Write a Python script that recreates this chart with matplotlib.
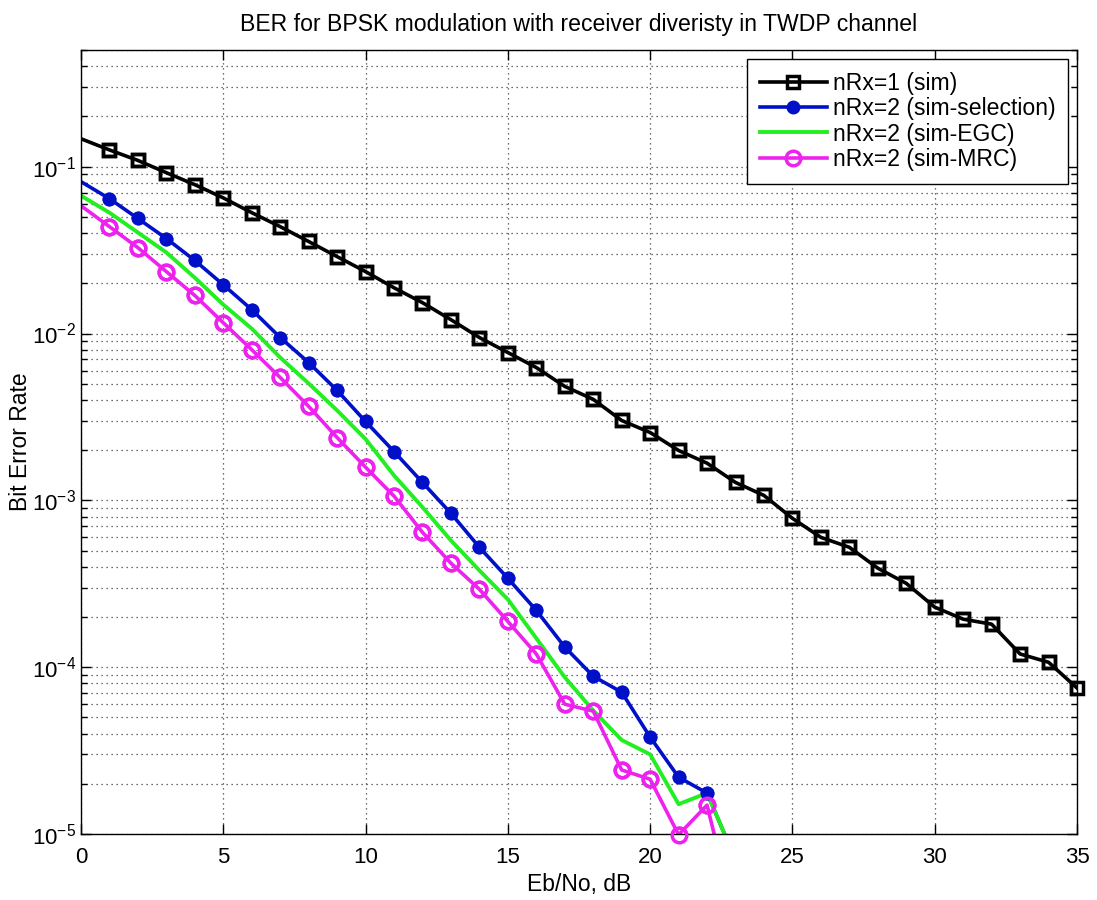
import numpy as np
import matplotlib
matplotlib.use('Agg')
import matplotlib.pyplot as plt
from matplotlib.ticker import LogLocator, NullFormatter

plt.rcParams['font.family'] = ['Liberation Sans', 'DejaVu Sans']
plt.rcParams['mathtext.fontset'] = 'custom'
plt.rcParams['mathtext.rm'] = 'Liberation Sans'

ebno_1rx = list(range(0, 36))
ber_1rx = [0.147, 0.126, 0.109, 0.092, 0.078, 0.065, 0.053, 0.0437, 0.0356, 0.0289,
           0.0235, 0.0188, 0.0153, 0.0121, 0.00946, 0.00769, 0.00625, 0.00482, 0.00403, 0.00301,
           0.00255, 0.00199, 0.00167, 0.00128, 0.00107, 0.00078, 0.0006, 0.000523, 0.000392, 0.000318,
           0.000229, 0.000194, 0.000181, 0.00012, 0.000107, 7.5e-5]

ebno_2rx = list(range(0, 24))
ber_sel = [0.0813, 0.0643, 0.0489, 0.0371, 0.0274, 0.0196, 0.0139, 0.00946, 0.0067, 0.00456,
           0.00297, 0.00196, 0.00128, 0.000836, 0.000523, 0.000341, 0.000219, 0.000132, 8.83e-5, 7.08e-5,
           3.81e-5, 2.19e-5, 1.76e-5, 7e-6]
ber_egc = [0.067, 0.053, 0.0403, 0.0306, 0.0216, 0.0149, 0.0107, 0.00718, 0.00502, 0.00346,
           0.00233, 0.00141, 0.00091, 0.000575, 0.00038, 0.000255, 0.000149, 8.7e-5, 5.5e-5, 3.66e-5,
           3.0e-5, 1.51e-5, 1.76e-5, 7e-6]
ber_mrc = [0.0583, 0.0437, 0.0327, 0.0235, 0.0169, 0.0116, 0.0080, 0.00545, 0.00366, 0.00238,
           0.00158, 0.00106, 0.000643, 0.00042, 0.000293, 0.000188, 0.00012, 6.0e-5, 5.45e-5, 2.42e-5,
           2.13e-5, 9.9e-6, 1.49e-5, 3e-6]

labels = ['nRx=1 (sim)', 'nRx=2 (sim-selection)', 'nRx=2 (sim-EGC)', 'nRx=2 (sim-MRC)']

fig = plt.figure(figsize=(10.97, 9), dpi=100)
ax = fig.add_axes([0.0738, 0.0733, 0.9080, 0.8711])

series = [
    (ebno_1rx, ber_1rx, dict(color='k', lw=2.6, marker='s', ms=9, mfc='none', mew=2.5)),
    (ebno_2rx, ber_sel, dict(color='#0010C8', lw=2.6, marker='o', ms=8.5, mfc='#0010C8', mew=1.5)),
    (ebno_2rx, ber_egc, dict(color='#22EE22', lw=2.8)),
    (ebno_2rx, ber_mrc, dict(color='#EE22EE', lw=2.6, marker='o', ms=10.5, mfc='none', mew=2.5)),
]

for (x, y, st), lab in zip(series, labels):
    ax.semilogy(x, y, label=lab, markevery=range(1, len(x)), **st)
    if 'marker' in st:
        # MATLAB draws markers at the axes edge in full
        xm = [a for a, b in zip(x[1:], y[1:]) if b >= 0.9e-5]
        ym = [b for b in y[1:] if b >= 0.9e-5]
        mst = dict(st)
        mst['lw'] = 0
        ax.semilogy(xm, ym, clip_on=False, zorder=3, **mst)

ax.set_xlim(0, 35)
ax.set_ylim(1e-5, 0.5)
ax.set_xticks(range(0, 36, 5))
ax.yaxis.set_major_locator(LogLocator(base=10))
ax.yaxis.set_minor_locator(LogLocator(base=10, subs=np.arange(2, 10)))
ax.yaxis.set_minor_formatter(NullFormatter())

grid_style = dict(linestyle=(0, (1, 3)), color='#404040', lw=0.9)
ax.grid(True, which='major', **grid_style)
ax.grid(True, which='minor', axis='y', **grid_style)
ax.tick_params(which='both', direction='in', top=True, right=True, labelsize=16)
ax.tick_params(axis='x', pad=9)
ax.tick_params(which='major', length=7, width=1)
ax.tick_params(which='minor', length=4, width=1)
for s in ax.spines.values():
    s.set_linewidth(1.0)

ax.set_title('BER for BPSK modulation with receiver diveristy in TWDP channel', fontsize=16.6, pad=14)
ax.set_xlabel('Eb/No, dB', fontsize=16.5, labelpad=4)
ax.set_ylabel('Bit Error Rate', fontsize=16.5, labelpad=0)

leg = ax.legend(loc='upper right', fontsize=16.6, frameon=True, fancybox=False,
                edgecolor='k', framealpha=1, handlelength=2.9, labelspacing=0.1,
                borderpad=0.55, handletextpad=0.25, borderaxespad=0.4)
leg.get_frame().set_linewidth(1.0)

fig.savefig('out.png', dpi=100)
